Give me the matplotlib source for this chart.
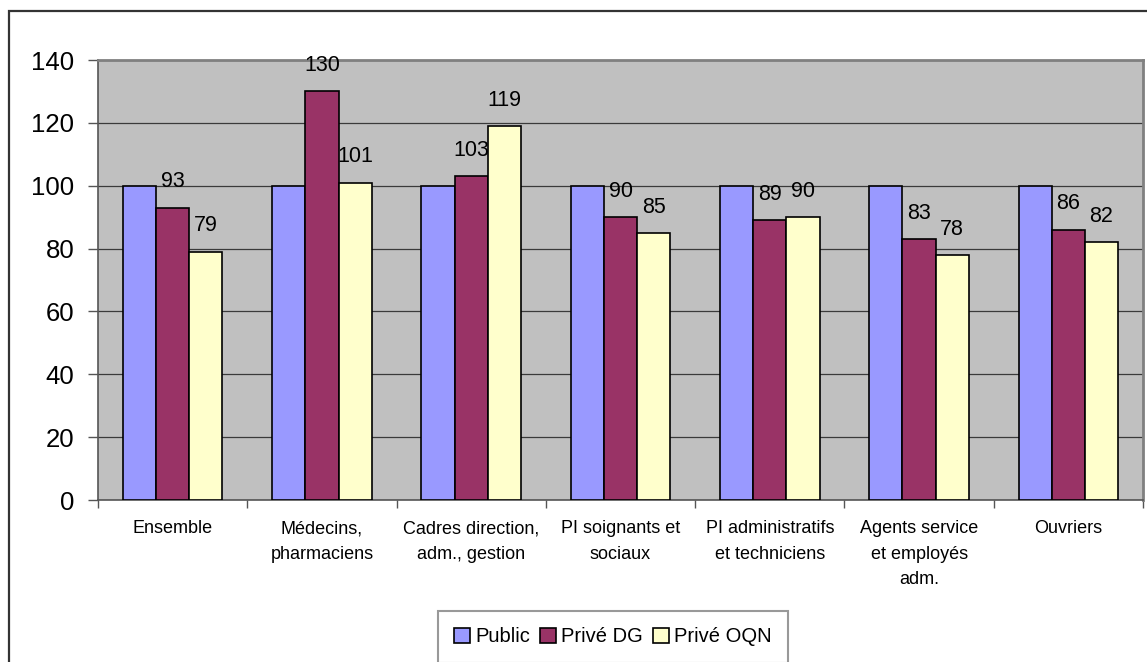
import matplotlib

matplotlib.use("Agg")
import matplotlib.pyplot as plt
import numpy as np
from matplotlib.patches import Rectangle

categories = [
    "Ensemble",
    "Médecins,\npharmaciens",
    "Cadres direction,\nadm., gestion",
    "PI soignants et\nsociaux",
    "PI administratifs\net techniciens",
    "Agents service\net employés\nadm.",
    "Ouvriers",
]
series_names = ["Public", "Privé DG", "Privé OQN"]
public = [100, 100, 100, 100, 100, 100, 100]
prive_dg = [93, 130, 103, 90, 89, 83, 86]
prive_oqn = [79, 101, 119, 85, 90, 78, 82]
y_ticks = [0, 20, 40, 60, 80, 100, 120, 140]

colors = ["#9999FF", "#993366", "#FFFFCC"]

plt.rcParams["font.family"] = ["Liberation Sans", "DejaVu Sans"]

W, H = 1147, 662
fig = plt.figure(figsize=(W / 100, H / 100), dpi=100)
fig.patch.set_facecolor("white")

# chart area border (runs past the right / bottom edge of the picture)
fig.patches.append(
    Rectangle((9 / W, -0.1), 1.2, 1 - 11 / H + 0.1, transform=fig.transFigure,
              fill=False, edgecolor="#333333", linewidth=1.6, zorder=0)
)

ax = fig.add_axes([98 / W, 1 - 500 / H, (1143 - 98) / W, (500 - 60) / H])
ax.set_facecolor("#C0C0C0")

x = np.arange(len(categories))
bw = 1 / 4.5
all_series = [public, prive_dg, prive_oqn]
for i, (vals, name, col) in enumerate(zip(all_series, series_names, colors)):
    pos = x + (i - 1) * bw
    bars = ax.bar(pos, vals, width=bw, color=col, edgecolor="black",
                  linewidth=1.2, label=name, zorder=3)
    if i > 0:
        for b, v in zip(bars, vals):
            ax.annotate(f"{v}", (b.get_x() + b.get_width() / 2, v),
                        xytext=(0, 11), textcoords="offset points",
                        ha="center", va="bottom", fontsize=15.5, zorder=4)

ax.set_xlim(-0.5, len(categories) - 0.5)
ax.set_ylim(0, 140)
ax.set_yticks(y_ticks)
ax.tick_params(axis="y", labelsize=18.5, length=7, width=1, color="#555555", pad=10)
ax.yaxis.grid(True, color="#3a3a3a", linewidth=0.9, zorder=1)
ax.set_axisbelow(True)

ax.set_xticks(x)
ax.set_xticklabels(categories, fontsize=13, linespacing=1.65)
ax.set_xticks(np.arange(len(categories) + 1) - 0.5, minor=True)
ax.tick_params(axis="x", which="major", length=0, pad=14.5)
ax.tick_params(axis="x", which="minor", length=6, width=1, color="#555555")

for side in ["left", "bottom"]:
    ax.spines[side].set_color("#555555")
    ax.spines[side].set_linewidth(1.2)
for side in ["top", "right"]:
    ax.spines[side].set_color("#808080")
    ax.spines[side].set_linewidth(2)

leg = fig.legend(loc="center", bbox_to_anchor=(613 / W, 1 - 637 / H), ncol=3,
                 fontsize=14.5, frameon=True, fancybox=False, handlelength=0.8,
                 handleheight=0.8, handletextpad=0.25, columnspacing=0.5,
                 borderpad=0.8, borderaxespad=0)
leg.get_frame().set_edgecolor("#808080")
leg.get_frame().set_linewidth(1.5)

fig.savefig("out.png", dpi=100)
